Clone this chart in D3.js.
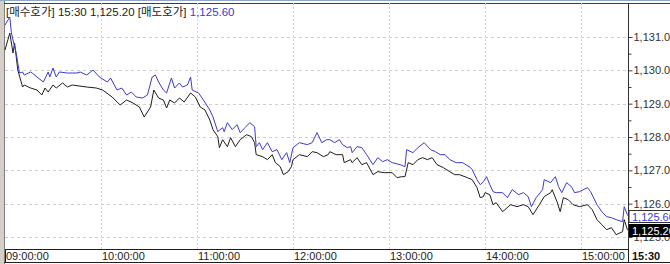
<!DOCTYPE html>
<html>
<head>
<meta charset="utf-8">
<script src="https://cdn.jsdelivr.net/npm/d3@7"></script>
<style>
body { margin:0; padding:0; background:#ffffff; }
svg { display:block; font-family:"Liberation Sans","Noto Sans CJK KR",sans-serif; }
</style>
</head>
<body>
<svg id="chart"></svg>
<script>
// 매도호가 (ask) - blue line
var askData = [
["09:00",1131.36],["09:03",1131.60],["09:04",1131.12],["09:05",1130.91],["09:07",1130.52],
["09:08",1130.22],["09:09",1129.92],["09:11",1129.95],["09:12",1129.86],["09:16",1129.95],
["09:17",1129.92],["09:20",1129.80],["09:24",1129.65],["09:27",1129.95],["09:28",1129.80],
["09:30",1130.07],["09:32",1129.80],["09:34",1129.95],["09:39",1129.92],["09:45",1129.92],
["09:47",1129.95],["09:51",1129.86],["09:55",1130.01],["09:59",1129.80],["10:04",1129.65],
["10:06",1129.77],["10:10",1129.41],["10:13",1129.47],["10:16",1129.26],["10:19",1129.35],
["10:22",1129.20],["10:26",1129.17],["10:29",1129.26],["10:32",1129.80],["10:34",1129.86],
["10:36",1129.65],["10:39",1129.41],["10:41",1129.32],["10:44",1129.77],["10:46",1129.47],
["10:49",1129.62],["10:51",1129.50],["10:54",1129.56],["10:56",1129.80],["10:57",1129.41],
["11:01",1129.32],["11:04",1129.11],["11:08",1128.81],["11:10",1128.60],["11:13",1128.16],
["11:16",1128.28],["11:17",1128.16],["11:19",1128.43],["11:22",1128.22],["11:25",1128.37],
["11:27",1128.13],["11:30",1128.28],["11:33",1128.43],["11:36",1128.31],["11:37",1127.71],
["11:39",1127.83],["11:41",1127.62],["11:44",1127.83],["11:47",1127.56],["11:50",1127.62],
["11:53",1127.32],["11:56",1127.53],["11:58",1127.23],["12:00",1127.68],["12:04",1127.83],
["12:09",1127.77],["12:12",1127.83],["12:15",1128.13],["12:18",1127.83],["12:21",1127.92],
["12:23",1127.92],["12:26",1127.83],["12:29",1127.92],["12:31",1127.77],["12:34",1127.68],
["12:36",1127.71],["12:37",1127.53],["12:40",1127.71],["12:43",1127.68],["12:46",1127.47],
["12:50",1127.17],["12:53",1127.38],["12:56",1127.26],["12:59",1127.32],["13:02",1127.23],
["13:07",1127.17],["13:10",1127.11],["13:11",1127.62],["13:15",1127.53],["13:18",1127.68],
["13:22",1127.83],["13:26",1127.62],["13:29",1127.56],["13:32",1127.47],["13:35",1127.47],
["13:38",1127.32],["13:42",1127.23],["13:46",1127.23],["13:51",1127.08],["13:52",1127.02],
["13:55",1126.72],["13:57",1126.57],["13:59",1126.66],["14:01",1126.81],["14:03",1126.57],
["14:05",1126.36],["14:07",1126.33],["14:11",1126.33],["14:14",1126.18],["14:17",1126.42],
["14:21",1126.27],["14:24",1126.33],["14:27",1126.21],["14:29",1125.91],["14:32",1126.18],
["14:36",1126.42],["14:37",1126.72],["14:41",1126.63],["14:44",1126.81],["14:46",1126.51],
["14:48",1126.33],["14:51",1126.63],["14:54",1126.51],["14:56",1126.33],["14:59",1126.36],
["15:04",1126.48],["15:06",1126.36],["15:10",1125.97],["15:13",1125.76],["15:16",1125.61],
["15:19",1125.58],["15:22",1125.52],["15:26",1125.46],["15:27",1125.91],["15:29",1125.67],
["15:30",1125.60]
]

// 매수호가 (bid) - black line
var bidData = [
["09:00",1130.61],["09:03",1131.12],["09:05",1130.52],["09:06",1130.82],["09:08",1130.01],
["09:11",1129.50],["09:12",1129.56],["09:16",1129.47],["09:20",1129.41],["09:23",1129.26],
["09:25",1129.47],["09:27",1129.35],["09:30",1129.56],["09:32",1129.47],["09:36",1129.62],
["09:39",1129.50],["09:42",1129.56],["09:51",1129.50],["09:57",1129.47],["10:01",1129.41],
["10:07",1129.20],["10:12",1128.96],["10:16",1129.11],["10:20",1129.02],["10:24",1128.90],
["10:27",1128.60],["10:31",1128.90],["10:33",1129.41],["10:36",1129.17],["10:39",1129.11],
["10:41",1128.87],["10:43",1129.11],["10:46",1129.02],["10:49",1129.17],["10:52",1129.05],
["10:56",1129.32],["10:59",1129.20],["11:02",1128.90],["11:05",1128.81],["11:08",1128.51],
["11:10",1128.22],["11:13",1128.01],["11:14",1127.68],["11:16",1127.92],["11:19",1127.71],
["11:21",1127.98],["11:24",1127.71],["11:27",1127.92],["11:31",1128.07],["11:34",1128.01],
["11:36",1127.83],["11:37",1127.47],["11:41",1127.41],["11:44",1127.32],["11:47",1127.47],
["11:49",1127.23],["11:52",1127.11],["11:54",1126.87],["11:57",1126.96],["11:59",1127.11],
["12:00",1127.32],["12:04",1127.47],["12:09",1127.41],["12:12",1127.56],["12:15",1127.53],
["12:19",1127.41],["12:22",1127.47],["12:23",1127.56],["12:27",1127.47],["12:31",1127.47],
["12:32",1127.23],["12:36",1127.32],["12:37",1127.23],["12:40",1127.38],["12:43",1127.17],
["12:46",1127.23],["12:50",1126.87],["12:53",1126.96],["12:57",1126.93],["13:02",1126.93],
["13:05",1126.78],["13:08",1126.81],["13:10",1126.81],["13:12",1127.23],["13:15",1127.17],
["13:18",1127.32],["13:21",1127.38],["13:24",1127.32],["13:27",1127.38],["13:30",1127.17],
["13:34",1127.08],["13:38",1126.96],["13:41",1126.87],["13:44",1126.87],["13:49",1126.78],
["13:52",1126.72],["13:55",1126.48],["13:57",1126.18],["13:59",1126.21],["14:00",1126.33],
["14:03",1126.27],["14:05",1125.97],["14:07",1126.03],["14:11",1125.76],["14:16",1125.97],
["14:20",1125.91],["14:24",1125.97],["14:27",1125.91],["14:30",1125.67],["14:34",1125.97],
["14:37",1126.21],["14:41",1126.33],["14:42",1126.42],["14:45",1126.06],["14:47",1125.76],
["14:49",1126.18],["14:52",1126.12],["14:55",1125.97],["14:59",1125.91],["15:04",1125.97],
["15:07",1125.82],["15:10",1125.52],["15:13",1125.37],["15:16",1125.22],["15:19",1125.28],
["15:22",1125.07],["15:26",1125.16],["15:27",1125.52],["15:29",1125.22],["15:30",1125.20]
]

var yTicks = [1125, 1126, 1127, 1128, 1129, 1130, 1131]
var xTicks = ["09:00","10:00","11:00","12:00","13:00","14:00","15:00"]
var lastTime = "15:30"
var bidLast = 1125.20
var askLast = 1125.60

var parseTime = d3.timeParse("%H:%M")
var fmtPrice = d3.format(",.2f")
var fmtTick = d3.format(",.1f")

var initGraph = function()
{
    var screen = {width:670, height:264}
    var plot = {left:5, right:628, top:3, bottom:249}

    var svg = d3.select("#chart")
        .attr("width", screen.width)
        .attr("height", screen.height)

    var xScale = d3.scaleTime()
        .domain([parseTime("09:00"), parseTime(lastTime)])
        .range([plot.left, 629])

    var yScale = d3.scaleLinear()
        .domain([1125, 1131])
        .range([237, 37])

    // left frame
    svg.append("rect")
        .attr("x",0).attr("y",0)
        .attr("width",4).attr("height",screen.height)
        .attr("fill","#d4d0c8")
    svg.append("line")
        .attr("x1",4.5).attr("x2",4.5).attr("y1",0).attr("y2",screen.height)
        .attr("stroke","#808080")
    svg.append("line")
        .attr("x1",0).attr("x2",screen.width).attr("y1",0.5).attr("y2",0.5)
        .attr("stroke","#8fa6c8")
    svg.append("line")
        .attr("x1",4).attr("x2",screen.width).attr("y1",3.5).attr("y2",3.5)
        .attr("stroke","#404040")

    // grid
    svg.append("g").selectAll("line")
        .data(yTicks)
        .enter()
        .append("line")
        .attr("x1",plot.left).attr("x2",plot.right)
        .attr("y1",function(d){ return Math.round(yScale(d))+0.5 })
        .attr("y2",function(d){ return Math.round(yScale(d))+0.5 })
        .attr("stroke","#cfcfcf")
        .attr("stroke-dasharray","3,3")

    svg.append("g").selectAll("line")
        .data(xTicks.slice(1))
        .enter()
        .append("line")
        .attr("x1",function(d){ return Math.round(xScale(parseTime(d)))+0.5 })
        .attr("x2",function(d){ return Math.round(xScale(parseTime(d)))+0.5 })
        .attr("y1",plot.top).attr("y2",plot.bottom)
        .attr("stroke","#d6d6d6")
        .attr("stroke-dasharray","2,2")

    // lines
    var line = d3.line()
        .x(function(d){ return xScale(parseTime(d[0])) })
        .y(function(d){ return yScale(d[1]) })

    svg.append("path")
        .datum(bidData)
        .attr("fill","none")
        .attr("stroke","#1e1e1e")
        .attr("stroke-width",1)
        .attr("d",line)

    svg.append("path")
        .datum(askData)
        .attr("fill","none")
        .attr("stroke","#3a3ad8")
        .attr("stroke-width",1)
        .attr("d",line)

    // right axis
    var yAxis = d3.axisRight(yScale)
        .tickValues(d3.range(1125, 1131.5, 0.5))
        .tickSize(4)
        .tickFormat(function(d){ return d % 1 == 0 ? fmtTick(d) : "" })

    var yg = svg.append("g")
        .attr("transform","translate("+(plot.right+0.5)+",0)")
        .call(yAxis)
    yg.select(".domain").remove()
    yg.selectAll(".tick line")
        .attr("stroke","#404040")
        .attr("x2",function(d){ return d % 1 == 0 ? 4 : 3 })
    yg.selectAll(".tick text")
        .attr("x",5)
        .attr("fill","#333333")
        .attr("font-size","11px")
        .attr("font-family","Liberation Sans, sans-serif")

    svg.append("line")
        .attr("x1",plot.right+0.5).attr("x2",plot.right+0.5)
        .attr("y1",plot.top).attr("y2",262)
        .attr("stroke","#303030")

    // x axis box
    svg.append("rect")
        .attr("x",plot.left+0.5).attr("y",plot.bottom+0.5)
        .attr("width",plot.right-plot.left).attr("height",13)
        .attr("fill","none")
        .attr("stroke","#202020")
    svg.append("line")
        .attr("x1",4).attr("x2",screen.width).attr("y1",262.5).attr("y2",262.5)
        .attr("stroke","#202020")

    svg.append("g").selectAll("text")
        .data(xTicks)
        .enter()
        .append("text")
        .attr("x",function(d){ return Math.round(xScale(parseTime(d)))+1 })
        .attr("y",260)
        .attr("font-size","11px")
        .attr("fill","#222222")
        .text(function(d){ return d+":00" })

    svg.append("text")
        .attr("x",632)
        .attr("y",260)
        .attr("font-size","11px")
        .attr("font-weight","bold")
        .attr("fill","#111111")
        .text(lastTime)

    // price tags
    var askY = Math.round(yScale(askLast))
    svg.append("rect")
        .attr("x",plot.right+1).attr("y",askY-6.5)
        .attr("width",42).attr("height",12)
        .attr("fill","#ffffff")
        .attr("stroke","#303030")
    svg.append("text")
        .attr("x",632).attr("y",askY+4)
        .attr("font-size","11px")
        .attr("fill","#3a3ad8")
        .text(fmtPrice(askLast))

    var bidY = Math.round(yScale(bidLast))
    svg.append("rect")
        .attr("x",plot.right+1).attr("y",bidY-6)
        .attr("width",42).attr("height",13)
        .attr("fill","#000000")
    svg.append("text")
        .attr("x",632).attr("y",bidY+4.5)
        .attr("font-size","11px")
        .attr("fill","#ffffff")
        .text(fmtPrice(bidLast))

    // header
    var header = svg.append("text")
        .attr("x",6)
        .attr("y",16)
        .attr("font-size","11.5px")
        .attr("fill","#222222")
    header.append("tspan")
        .text("[매수호가] "+lastTime+" "+fmtPrice(bidLast)+" [매도호가] ")
    header.append("tspan")
        .attr("fill","#3a3ad8")
        .text(fmtPrice(askLast))
}

initGraph()
</script>
</body>
</html>
